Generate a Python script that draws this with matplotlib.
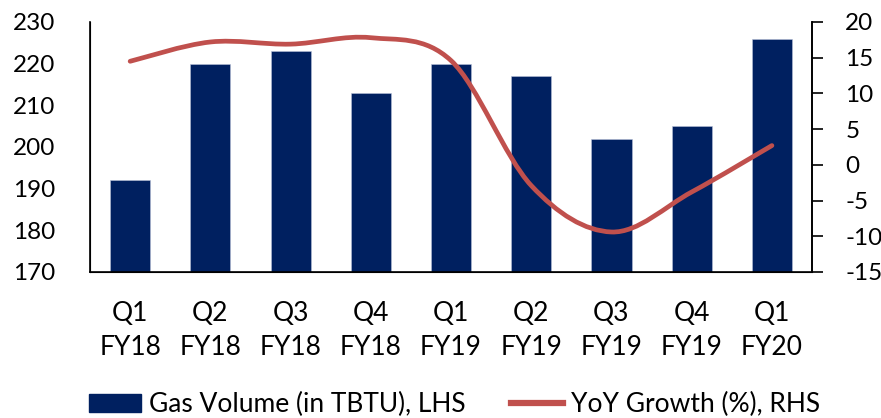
import matplotlib.pyplot as plt
import numpy as np
from matplotlib.path import Path
from matplotlib.patches import PathPatch
from matplotlib.lines import Line2D
from matplotlib.patches import Patch

plt.rcParams['font.family'] = ['Lato', 'DejaVu Sans']
plt.rcParams['axes.unicode_minus'] = False

quarters = ["Q1\nFY18", "Q2\nFY18", "Q3\nFY18", "Q4\nFY18", "Q1\nFY19",
            "Q2\nFY19", "Q3\nFY19", "Q4\nFY19", "Q1\nFY20"]
gas_volume = [192, 220, 223, 213, 220, 217, 202, 205, 226]
yoy_growth = [14.5, 17.2, 16.9, 17.8, 14.6, -2.9, -9.4, -3.8, 2.7]

bar_color = "#002060"
line_color = "#C0504D"
fs_num = 17.5
fs_txt = 19


def smooth_path(xs, ys):
    # Catmull-Rom through the points, written as cubic Bezier segments
    pts = np.column_stack([xs, ys]).astype(float)
    ext = np.vstack([pts[0], pts, pts[-1]])
    verts = [pts[0]]
    codes = [Path.MOVETO]
    for i in range(1, len(ext) - 2):
        p0, p1, p2, p3 = ext[i - 1], ext[i], ext[i + 1], ext[i + 2]
        verts += [p1 + (p2 - p0) / 6, p2 - (p3 - p1) / 6, p2]
        codes += [Path.CURVE4] * 3
    return Path(verts, codes)


fig = plt.figure(figsize=(8.81, 4.18), dpi=100)
ax = fig.add_axes([0.1022, 0.3493, 0.8195, 0.5981])
x = np.arange(len(quarters))

ax.bar(x, gas_volume, width=0.5, color=bar_color, edgecolor="#b8c0d8",
       linewidth=0.4, zorder=2)
ax.set_ylim(170, 230)
ax.set_yticks(range(170, 231, 10))
ax.set_xlim(-0.5, len(quarters) - 0.5)
ax.set_xticks(x)
ax.set_xticklabels(quarters, linespacing=1.45)
ax.tick_params(axis="y", length=0, pad=25, labelsize=fs_num)
ax.tick_params(axis="x", length=0, pad=21, labelsize=fs_txt)
ax.spines["top"].set_visible(False)
for s in ("left", "bottom", "right"):
    ax.spines[s].set_linewidth(1.2)

ax2 = ax.twinx()
ax2.set_ylim(-15, 20)
ax2.set_yticks(range(-15, 21, 5))
ax2.tick_params(axis="y", direction="out", length=8, width=1.2, pad=16,
                labelsize=fs_num)
ax2.spines["top"].set_visible(False)
ax2.spines["right"].set_linewidth(1.2)
ax2.add_patch(PathPatch(smooth_path(x, yoy_growth), facecolor="none",
                        edgecolor=line_color, linewidth=3.4,
                        capstyle="round", zorder=3))

handles = [Patch(facecolor=bar_color, edgecolor=bar_color),
           Line2D([], [], color=line_color, linewidth=4.5)]
labels = ["Gas Volume (in TBTU), LHS", "YoY Growth (%), RHS"]
fig.legend(handles, labels, loc="center", bbox_to_anchor=(0.516, 0.032),
           ncol=2, frameon=False, fontsize=fs_txt, handlelength=1.95,
           handletextpad=0.3, columnspacing=1.75, borderpad=0)

fig.savefig("out.png", dpi=100)
